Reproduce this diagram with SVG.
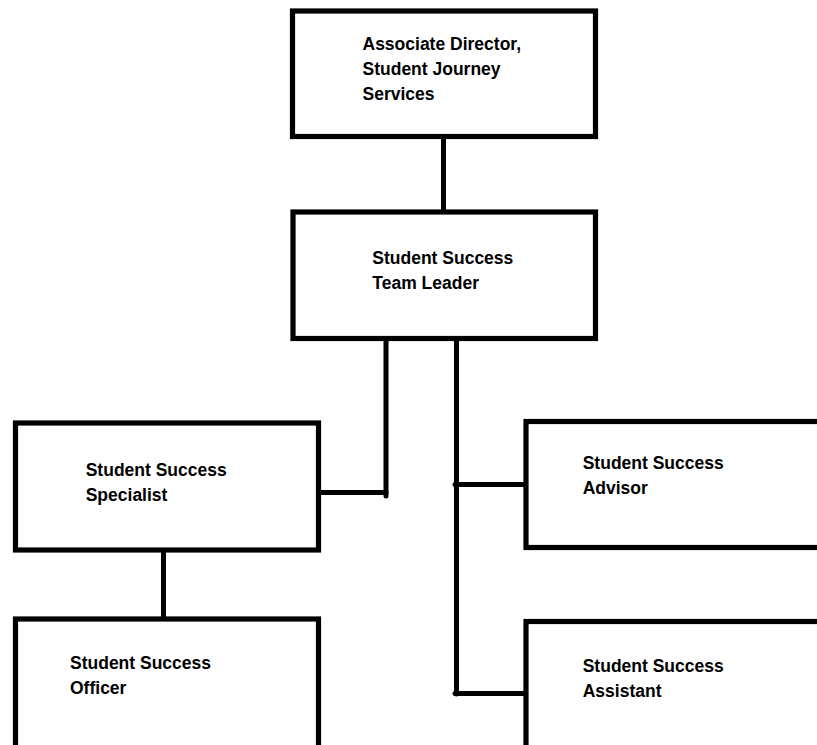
<svg xmlns="http://www.w3.org/2000/svg" width="817" height="745" viewBox="0 0 817 745">
<style>
.box{fill:#fff;stroke:#000;stroke-width:5.2}
.lbl{font-family:"Liberation Sans",Arial,sans-serif;font-weight:bold;font-size:17.5px;fill:#000}
.con{fill:none;stroke:#000;stroke-width:5;stroke-linecap:round}
</style>
<rect width="817" height="745" fill="#fff"/>
<g id="connectors">
<path class="con" d="M443.5,137 V213"/>
<path class="con" d="M386,339 V496"/>
<path class="con" d="M320,492.5 H386"/>
<path class="con" d="M456.5,339 V694"/>
<path class="con" d="M455,484.5 H525"/>
<path class="con" d="M455,693.5 H525"/>
<path class="con" d="M163.5,550 V619"/>
</g>
<g id="associate-director">
<rect class="box" x="292.5" y="11" width="303" height="125.5"/>
<text class="lbl" x="362.5" y="50">Associate Director,</text>
<text class="lbl" x="362.5" y="75">Student Journey</text>
<text class="lbl" x="362.5" y="99.5">Services</text>
</g>
<g id="team-leader">
<rect class="box" x="293" y="212" width="302.5" height="126.5"/>
<text class="lbl" x="372.3" y="263.5">Student Success</text>
<text class="lbl" x="372.3" y="288.5">Team Leader</text>
</g>
<g id="specialist">
<rect class="box" x="15.5" y="423" width="303" height="127"/>
<text class="lbl" x="85.7" y="475.5">Student Success</text>
<text class="lbl" x="85.7" y="500.5">Specialist</text>
</g>
<g id="officer">
<rect class="box" x="15.5" y="619" width="303" height="140"/>
<text class="lbl" x="70" y="668.5">Student Success</text>
<text class="lbl" x="70" y="693.5">Officer</text>
</g>
<g id="advisor">
<rect class="box" x="526" y="421.5" width="310" height="126"/>
<text class="lbl" x="582.7" y="468.5">Student Success</text>
<text class="lbl" x="582.7" y="493.5">Advisor</text>
</g>
<g id="assistant">
<rect class="box" x="526" y="621.5" width="310" height="140"/>
<text class="lbl" x="582.7" y="671.7">Student Success</text>
<text class="lbl" x="582.7" y="696.7">Assistant</text>
</g>
</svg>
